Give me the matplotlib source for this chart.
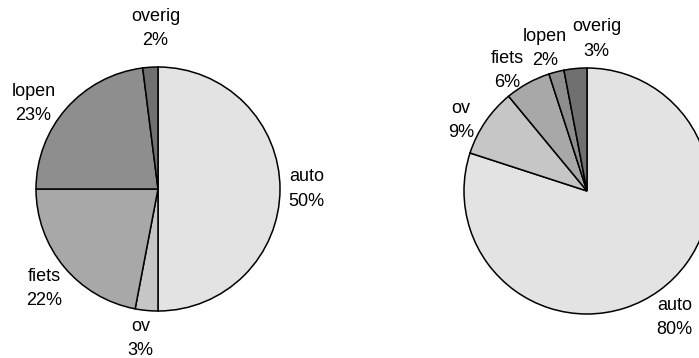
import matplotlib
matplotlib.use("Agg")
import matplotlib.pyplot as plt
from matplotlib.transforms import offset_copy

plt.rcParams['font.family'] = ['Liberation Sans', 'DejaVu Sans']

# Modal split: share of trips per mode of transport (%)
modes = ["auto", "ov", "fiets", "lopen", "overig"]
share_left = [50, 3, 22, 23, 2]
share_right = [80, 9, 6, 2, 3]

colors = ["#e3e3e3", "#c6c6c6", "#a8a8a8", "#8e8e8e", "#707070"]

W, H = 699, 358
fig = plt.figure(figsize=(W / 100, H / 100), dpi=100)
fig.patch.set_facecolor("white")


def draw_pie(cx, cy, r, values, nudges):
    """Draw one pie with centre (cx, cy) and radius r in pixels (top-left origin).

    nudges: per-wedge (dx, dy) pixel shifts of the label, dy pointing down.
    """
    ax = fig.add_axes([(cx - r) / W, (H - cy - r) / H, 2 * r / W, 2 * r / H])
    labels_iter = iter(modes)

    def fmt(pct):
        name = next(labels_iter)
        return f"{name}\n{pct:.0f}%"

    wedges, _, autotexts = ax.pie(
        values,
        colors=colors,
        startangle=90,
        counterclock=False,
        autopct=fmt,
        pctdistance=1.25,
        radius=1.0,
        wedgeprops=dict(edgecolor="black", linewidth=1.1),
        textprops=dict(fontsize=13, color="black"),
    )
    for t, (dx, dy) in zip(autotexts, nudges):
        t.set_linespacing(1.55)
        t.set_clip_on(False)
        t.set_transform(offset_copy(ax.transData, fig, x=dx, y=-dy, units="dots"))
    ax.set_xlim(-1, 1)
    ax.set_ylim(-1, 1)
    ax.set_aspect("equal", adjustable="box")
    ax.axis("off")
    return ax


draw_pie(158, 189, 122, share_left,
         [(-4, 0), (-3, -2), (4, 2), (-10, 15), (7, -8)])
draw_pie(587, 191, 123, share_right,
         [(-3, 2), (1, 16), (-6, 14), (-4, 6), (24, 1)])

fig.savefig("out.png", dpi=100, facecolor="white")
